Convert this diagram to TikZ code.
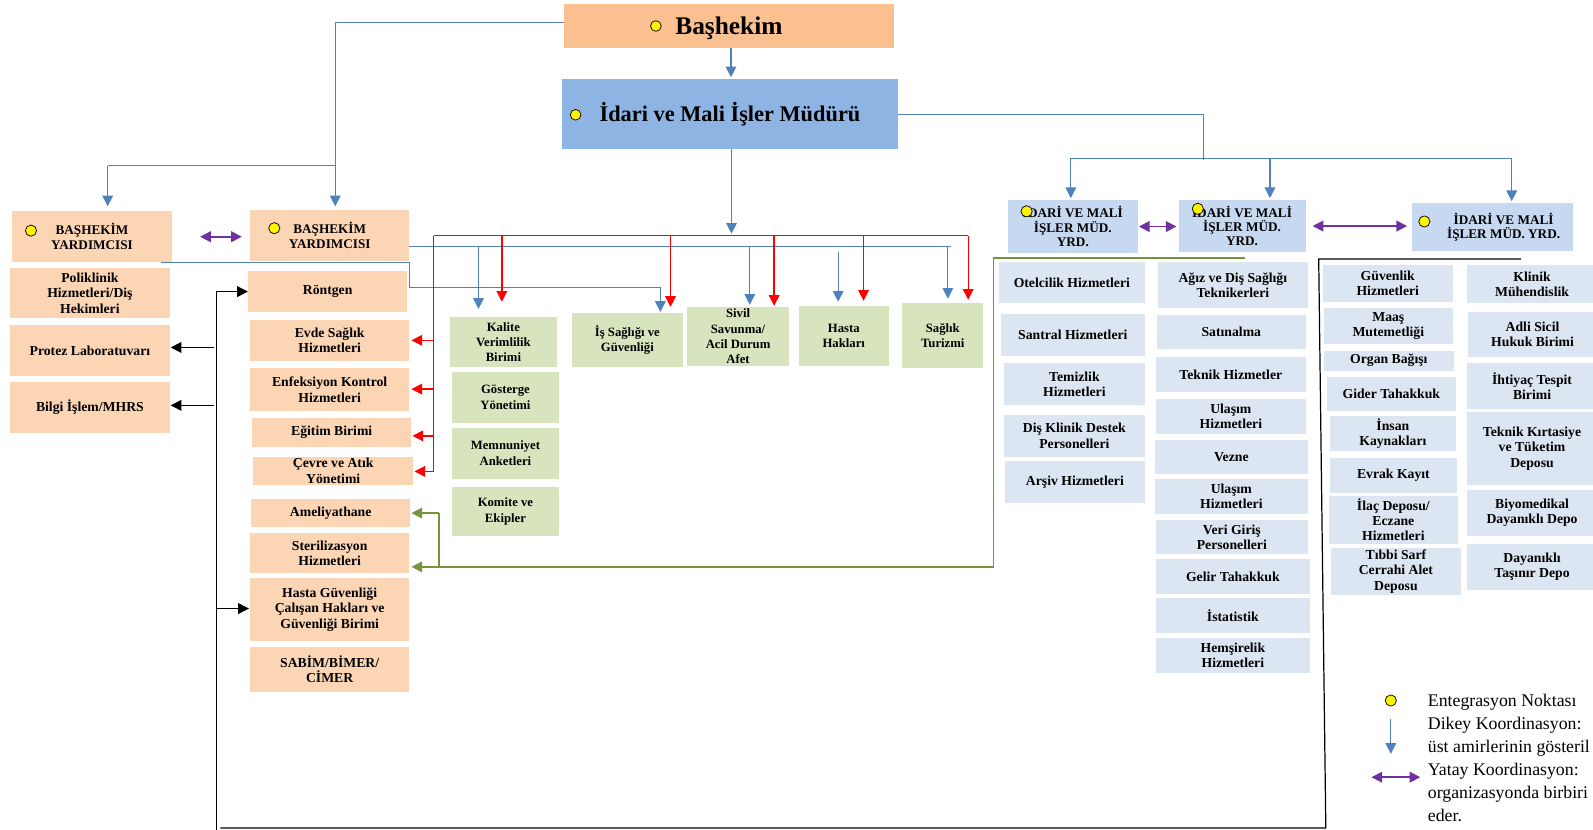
\documentclass[tikz,border=0pt]{standalone}
\usepackage{fontspec}
\setmainfont{Liberation Serif}
\usetikzlibrary{arrows.meta}
\definecolor{orL}{HTML}{FCD5B5}
\definecolor{orD}{HTML}{FAC090}
\definecolor{blM}{HTML}{8EB4E3}
\definecolor{grL}{HTML}{D7E4BD}
\definecolor{blY}{HTML}{C6D9F1}
\definecolor{blS}{HTML}{DCE6F2}
\definecolor{lnB}{HTML}{4F81BD}
\definecolor{lnR}{HTML}{FF0000}
\definecolor{lnG}{HTML}{77933C}
\definecolor{lnP}{HTML}{7030A0}
\newcommand\mybox[7]{%
 \pgfmathsetmacro\mbW{#5-(#3)}%
 \pgfmathsetmacro\mbH{#6-(#4)}%
 \pgfmathsetmacro\mbX{(#3+#5)/2}%
 \pgfmathsetmacro\mbY{(#4+#6)/2}%
 \node[#1, minimum width=\mbW pt, minimum height=\mbH pt] (#2) at (\mbX,\mbY) {#7};%
}
\tikzset{
 every node/.style={inner sep=0pt, outer sep=0pt},
 bbox/.style={fill=orD, text depth=0pt, font=\bfseries\fontsize{25}{28}\selectfont},
 ibox/.style={fill=blM, font=\bfseries\fontsize{22}{25}\selectfont},
 obox/.style={fill=orL, align=center, font=\bfseries\fontsize{13.5}{15}\selectfont},
 bybox/.style={fill=orL, align=center, font=\bfseries\fontsize{13}{15}\selectfont},
 gbox/.style={fill=grL, align=center, font=\bfseries\fontsize{12.5}{15}\selectfont},
 rbox/.style={fill=blS, align=center, font=\bfseries\fontsize{13.5}{15}\selectfont},
 ybox/.style={fill=blY, align=center, font=\bfseries\fontsize{13}{14}\selectfont},
 ydot/.style={circle, fill=yellow, draw=black, line width=0.7pt, minimum size=11pt},
 tip/.style={-{Triangle[length=10.5pt,width=10.5pt]}},
 bline/.style={draw=lnB, line width=1.1pt},
 barr/.style={bline, tip},
 rline/.style={draw=lnR, line width=1.3pt},
 rarr/.style={rline, tip},
 gline/.style={draw=lnG, line width=1.3pt},
 garr/.style={gline, tip},
 kline/.style={draw=black, line width=1.2pt},
 karr/.style={kline, tip},
 parr/.style={draw=lnP, line width=1.8pt, {Triangle[length=10.5pt,width=10.5pt]}-{Triangle[length=10.5pt,width=10.5pt]}},
 lg/.style={font=\fontsize{17.5}{21}\selectfont, anchor=base west}
}
\begin{document}
\begin{tikzpicture}[x=1pt,y=-1pt]
\useasboundingbox (0,0) rectangle (1568,816);
\clip (0,0) rectangle (1568,816);
\fill[white] (0,0) rectangle (1568,816);

% top
\mybox{bbox}{bas}{555}{4}{880}{47}{Başhekim}
\node[ydot, minimum size=10.5pt] (basdot) at (645.6,25.6) {};
\mybox{ibox}{idari}{553}{78}{884}{147}{İdari ve Mali İşler Müdürü}
\node[ydot, minimum size=10.5pt] (idot) at (566.6,113) {};

% left
\mybox{bybox}{by1}{12}{208}{169}{258}{BAŞHEKİM\\YARDIMCISI}
\node[ydot] (by1dot) at (30.5,227) {};
\mybox{bybox}{by2}{246}{207}{403}{257}{BAŞHEKİM\\YARDIMCISI}
\node[ydot] (by2dot) at (270,224.6) {};
\mybox{obox}{poli}{10}{264}{167}{313}{Poliklinik\\Hizmetleri/Diş\\Hekimleri}
\mybox{obox}{protez}{10}{320}{167}{370}{Protez Laboratuvarı}
\mybox{obox}{bilgi}{10}{376}{167}{426}{Bilgi İşlem/MHRS}
\mybox{obox}{ront}{244}{267}{401}{307}{Röntgen}
\mybox{obox}{evde}{246}{315}{403}{355}{Evde Sağlık\\Hizmetleri}
\mybox{obox}{enf}{246}{362}{403}{405}{Enfeksiyon Kontrol\\Hizmetleri}
\mybox{obox}{egit}{248}{411}{405}{440}{Eğitim Birimi}
\mybox{obox}{cevre}{249}{450}{407}{477}{Çevre ve Atık\\Yönetimi}
\mybox{obox}{amel}{247}{491}{404}{519}{Ameliyathane}
\mybox{obox}{steril}{246}{525}{403}{564}{Sterilizasyon\\Hizmetleri}
\mybox{obox}{hastag}{246}{569}{403}{631}{Hasta Güvenliği\\Çalışan Hakları ve\\Güvenliği Birimi}
\mybox{obox}{sabim}{246}{637}{403}{681}{SABİM/BİMER/\\CİMER}

% green
\mybox{gbox}{kalite}{443}{312}{548}{361}{Kalite\\Verimlilik\\Birimi}
\mybox{gbox}{is}{563}{308}{672}{361}{İş Sağlığı ve\\Güvenliği}
\mybox{gbox}{sivil}{676}{302}{777}{360}{Sivil\\Savunma/\\Acil Durum\\Afet}
\mybox{gbox}{hasta}{786}{301}{875}{360}{Hasta\\Hakları}
\mybox{gbox}{saglik}{888}{298}{968}{362}{Sağlık\\Turizmi}
\mybox{gbox}{goster}{445}{366}{550}{416}{Gösterge\\Yönetimi}
\mybox{gbox}{memnun}{445}{421}{550}{471}{Memnuniyet\\Anketleri}
\mybox{gbox}{komite}{445}{479}{550}{528}{Komite ve\\Ekipler}

% YRD
\mybox{ybox}{yrd1}{992}{197}{1120}{249}{İDARİ VE MALİ\\İŞLER MÜD.\\YRD.}
\node[ydot] (y1dot) at (1010.5,208) {};
\mybox{ybox}{yrd2}{1160}{197}{1285}{248}{İDARİ VE MALİ\\İŞLER MÜD.\\YRD.}
\node[ydot] (y2dot) at (1179,205.5) {};
\mybox{ybox}{yrd3}{1390}{200}{1548}{247}{\hspace*{22pt}İDARİ VE MALİ\\\hspace*{22pt}İŞLER MÜD. YRD.}
\node[ydot] (y3dot) at (1402,218) {};

% right col A
\mybox{rbox}{otel}{983}{258}{1127}{298}{Otelcilik Hizmetleri}
\mybox{rbox}{santral}{985}{309}{1127}{350}{Santral Hizmetleri}
\mybox{rbox}{temiz}{988}{357}{1127}{399}{Temizlik\\Hizmetleri}
\mybox{rbox}{disk}{988}{408}{1127}{450}{Diş Klinik Destek\\Personelleri}
\mybox{rbox}{arsiv}{989}{454}{1127}{495}{Arşiv Hizmetleri}
% col B
\mybox{rbox}{agiz}{1140}{258}{1287}{303}{Ağız ve Diş Sağlığı\\Teknikerleri}
\mybox{rbox}{satin}{1139}{310}{1285}{344}{Satınalma}
\mybox{rbox}{tekh}{1138}{351}{1285}{386}{Teknik Hizmetler}
\mybox{rbox}{ulas1}{1138}{393}{1285}{427}{Ulaşım\\Hizmetleri}
\mybox{rbox}{vezne}{1137}{433}{1287}{467}{Vezne}
\mybox{rbox}{ulas2}{1137}{471}{1287}{506}{Ulaşım\\Hizmetleri}
\mybox{rbox}{veri}{1138}{512}{1287}{545}{Veri Giriş\\Personelleri}
\mybox{rbox}{gelir}{1138}{550}{1289}{585}{Gelir Tahakkuk}
\mybox{rbox}{istat}{1138}{589}{1289}{623}{İstatistik}
\mybox{rbox}{hemsire}{1138}{628}{1289}{662}{Hemşirelik\\Hizmetleri}
% col C
\mybox{rbox}{guv}{1302}{261}{1430}{297}{Güvenlik\\Hizmetleri}
\mybox{rbox}{maas}{1303}{303}{1430}{339}{Maaş\\Mutemetliği}
\mybox{rbox}{organ}{1303}{345}{1431}{365}{Organ Bağışı}
\mybox{rbox}{gider}{1306}{371}{1433}{405}{Gider Tahakkuk}
\mybox{rbox}{insan}{1309}{409}{1433}{444}{İnsan\\Kaynakları}
\mybox{rbox}{evrak}{1309}{451}{1434}{485}{Evrak Kayıt}
\mybox{rbox}{ilac}{1308}{488}{1435}{535}{İlaç Deposu/\\Eczane\\Hizmetleri}
\mybox{rbox}{tibbi}{1310}{539}{1438}{586}{Tıbbi Sarf\\Cerrahi Alet\\Deposu}
% col D
\mybox{rbox}{klinik}{1444}{261}{1572}{298}{Klinik\\Mühendislik}
\mybox{rbox}{adli}{1445}{307}{1572}{351}{Adli Sicil\\Hukuk Birimi}
\mybox{rbox}{ihtiyac}{1444}{357}{1572}{403}{İhtiyaç Tespit\\Birimi}
\mybox{rbox}{tekkirt}{1444}{406}{1572}{477}{Teknik Kırtasiye\\ve Tüketim\\Deposu}
\mybox{rbox}{biyo}{1444}{482}{1572}{528}{Biyomedikal\\Dayanıklı Depo}
\mybox{rbox}{dayan}{1444}{535}{1572}{581}{Dayanıklı\\Taşınır Depo}

% ---------- blue connectors
\coordinate (jB) at (330,163);
\coordinate (jC) at (106,163);
\draw[bline] ([yshift=3.5pt]bas.west) -| (jB);
\draw[bline] (jC) -- (jB);
\draw[barr, shorten >=5pt] (jC) -- (jC |- by1.north);
\draw[barr, shorten >=4pt] (jB) -- (jB |- by2.north);
\draw[barr, shorten >=2pt] ([xshift=2pt]bas.south) -- ([xshift=2pt]bas.south |- idari.north);
\coordinate (rT) at (427,232);
\coordinate (rR) at (953,232);
\draw[barr, shorten >=2pt] ([xshift=1.5pt]idari.south) -- ([xshift=1.5pt]idari.south |- rT);
\coordinate (jD) at (1185,157);
\draw[bline] (idari.east) -| (jD);
\coordinate (jE) at (1054,156);
\coordinate (jF) at (1488,156);
\coordinate (jG) at (1250,156);
\draw[bline] (jE) -- (jF);
\draw[barr, shorten >=2pt] (jE) -- (jE |- yrd1.north);
\draw[barr, shorten >=2pt] (jG) -- (jG |- yrd2.north);
\draw[barr, shorten >=2pt] (jF) -- (jF |- yrd3.north);
\coordinate (h1) at (936,243);
\draw[bline] (by2.east |- h1) -- (h1);
\draw[barr, shorten >=8pt] (471,243) -- (471,0 |- kalite.north);
\draw[barr, shorten >=2pt] (738,243) -- (738,0 |- sivil.north);
\draw[barr, shorten >=4pt] (825,248) -- (825,0 |- hasta.north);
\draw[barr, shorten >=4pt] (933,243) -- (933,0 |- saglik.north);
\draw[barr, shorten >=1pt] ([xshift=-11pt]by1.south east) -- (403.5,258) -- (403.5,283) -- (650,283) -- (650,0 |- is.north);

% ---------- purple
\draw[parr, shorten <=28pt, shorten >=8pt] (by1.east) -- (by1.east -| by2.west);
\draw[parr, shorten <=1pt, shorten >=2pt] (yrd1.east) -- (yrd1.east -| yrd2.west);
\draw[parr, shorten <=7pt, shorten >=5pt] (yrd2.east) -- (yrd2.east -| yrd3.west);

% ---------- red
\draw[rline] (rT) -- (rR);
\draw[rline] (rT) -- (427,465);
\draw[rarr, shorten >=2pt] (427,335) -- (evde.east |- 427,335);
\draw[rarr, shorten >=2pt] (427,383) -- (enf.east |- 427,383);
\draw[rarr, shorten >=1pt] (427,429) -- (egit.east |- 427,429);
\draw[rarr, shorten >=1pt] (427,464) -- (cevre.east |- 427,464);
\draw[rarr, shorten >=15pt] (494,232) -- (494,0 |- kalite.north);
\draw[rarr, shorten >=6pt] (660,232) -- (660,0 |- is.north);
\draw[rarr, shorten >=1pt] (762,232) -- (762,0 |- sivil.north);
\draw[rarr, shorten >=5pt] (850,232) -- (850,0 |- hasta.north);
\draw[rarr, shorten >=3pt] (rR) -- (rR |- saglik.north);

% ---------- green
\coordinate (gT) at (978,254);
\coordinate (gR) at (1225,254);
\coordinate (gB) at (978,558);
\coordinate (gJ) at (432,558);
\coordinate (gK) at (432,505);
\draw[gline] (gR) -- (gT) -- (gB);
\draw[garr, shorten >=2pt] (gB) -- (steril.east |- gB);
\draw[gline] (gJ) -- (gK);
\draw[garr, shorten >=1pt] (gK) -- (amel.east |- gK);

% ---------- black
\coordinate (kT) at (213,287);
\coordinate (kB) at (213,817);
\draw[kline] (kT) -- (kB);
\draw[karr] (kT) -- (ront.west |- kT);
\draw[karr, shorten >=1pt] (211,342) -- (protez.east |- 211,342);
\draw[karr, shorten >=1pt] (211,399) -- (bilgi.east |- 211,399);
\draw[karr, shorten >=1pt] (213,599) -- (hastag.west |- 213,599);
\coordinate (kL) at (217,815);
\coordinate (kR) at (1305,815);
\coordinate (kTop) at (1298,255);
\coordinate (kTR) at (1497,255);
\draw[kline] (kL) -- (kR) -- (kTop) -- (kTR);

% ---------- legend
\node[ydot] (lgdot) at (1369,689.5) {};
\coordinate (lga) at (1369,708);
\coordinate (lgb) at (1369,742);
\draw[barr] (lga) -- (lgb);
\coordinate (lgc) at (1350,765);
\coordinate (lgd) at (1398,765);
\draw[parr] (lgc) -- (lgd);
\node[lg] (l1) at (1405.5,695) {Entegrasyon Noktası};
\node[lg] (l2) at (1405.5,717.8) {Dikey Koordinasyon:};
\node[lg] (l3) at (1405.5,740.6) {üst amirlerinin gösteril};
\node[lg] (l4) at (1405.5,763.4) {Yatay Koordinasyon:};
\node[lg] (l5) at (1405.5,786.2) {organizasyonda birbiri};
\node[lg] (l6) at (1405.5,809) {eder.};
\end{tikzpicture}
\end{document}
